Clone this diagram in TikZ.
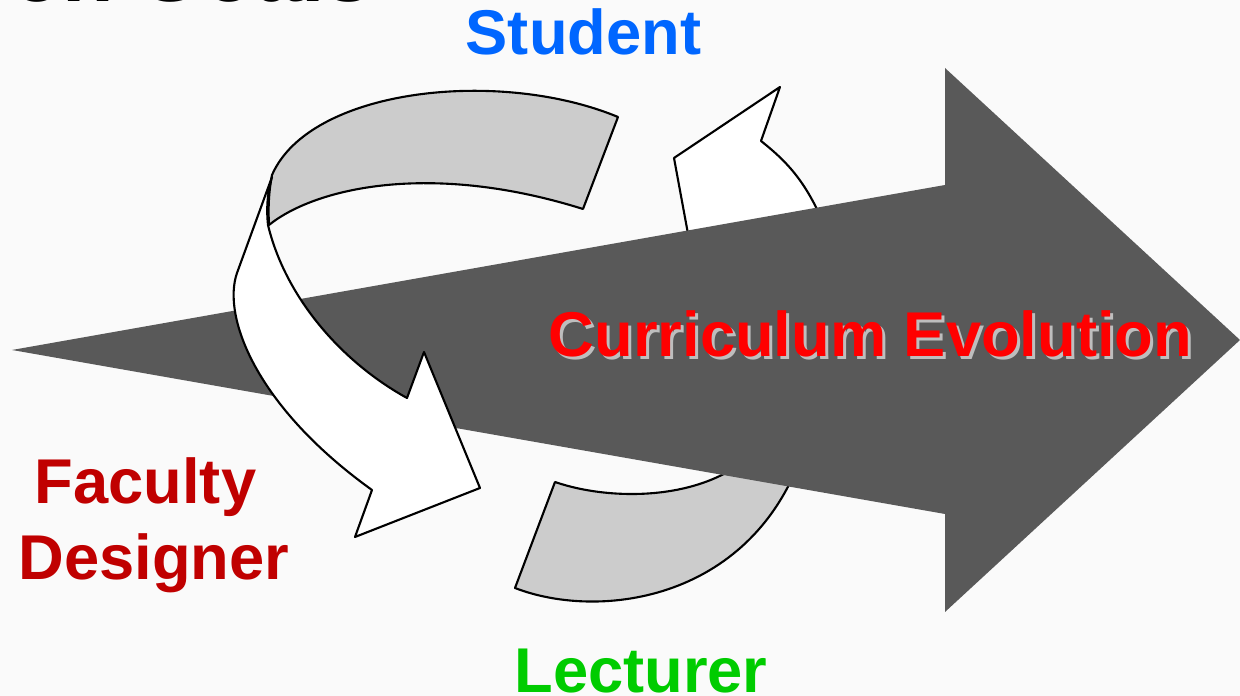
\documentclass[tikz,border=0pt]{standalone}
\usepackage{fontspec}
\setmainfont{Liberation Sans}
\usepackage{tikz}
\definecolor{mydark}{RGB}{89, 89, 89}
\definecolor{mygray}{RGB}{204, 204, 204}
\definecolor{myred}{RGB}{192, 0, 0}
\definecolor{myblue}{RGB}{0, 102, 255}
\definecolor{mygreen}{RGB}{0, 204, 0}
\definecolor{myshadow}{RGB}{190, 190, 190}
\definecolor{mybg}{RGB}{250, 250, 250}
\tikzset{band/.style = {draw = black, line width = 0.6pt, line join = round},
         rolelabel/.style = {font = \bfseries\fontsize{18}{21.6}\selectfont, inner sep = 0pt, anchor = base}}

\begin{document}
\begin{tikzpicture}[scale = 1]
\useasboundingbox (0,0) rectangle (12.4,6.96);
\fill[mybg] (0,0) rectangle (12.4,6.96);

% slide title, cut off at the top
\node[anchor = base east, inner sep = 0pt, font = \bfseries\fontsize{24}{28}\selectfont] (title) at (3.73, 6.94) {on Goals};

% ring parts behind the big arrow
\draw[band, fill = white] (6.91, 4.46) -- (6.74, 5.38) -- (7.80, 6.09) -- (7.61, 5.55)
.. controls (7.90, 5.32) and (8.10, 5.10) .. (8.30, 4.56) -- cycle;
\draw[band, fill = mygray] (5.55, 2.14) -- (5.15, 1.08)
.. controls (6.00, 0.75) and (7.55, 0.95) .. (8.05, 2.50) -- (7.50, 2.40)
.. controls (7.00, 1.95) and (6.10, 1.95) .. (5.55, 2.14) -- cycle;

% big arrow
\fill[mydark] (0.12, 3.46) -- (9.45, 5.11) -- (9.45, 6.28) -- (12.40, 3.56) -- (9.45, 0.84) -- (9.45, 1.82) -- cycle;

% ring parts in front
\draw[band, fill = mygray] (6.18, 5.79)
.. controls (5.00, 6.28) and (3.10, 6.08) .. (2.72, 5.21)
.. controls (2.69, 5.05) and (2.68, 4.90) .. (2.69, 4.71)
.. controls (3.15, 5.08) and (4.30, 5.35) .. (5.83, 4.87) -- cycle;
\draw[band, fill = white] (2.72, 5.19) -- (2.37, 4.23)
.. controls (2.22, 3.80) and (2.55, 2.90) .. (3.72, 2.06)
-- (3.55, 1.59) -- (4.80, 2.08) -- (4.24, 3.44) -- (4.07, 2.98)
.. controls (3.40, 3.35) and (2.85, 4.00) .. (2.68, 4.71)
.. controls (2.66, 4.90) and (2.68, 5.05) .. (2.72, 5.19) -- cycle;

% labels
\node[rolelabel, text = myshadow] (evoshadow) at (8.735, 3.36) {Curriculum Evolution};
\node[rolelabel, text = red] (evo) at (8.705, 3.39) {Curriculum Evolution};
\node[rolelabel, text = myblue] (student) at (5.835, 6.41) {Student};
\node[rolelabel, text = myred] (faculty) at (1.455, 1.92) {Faculty};
\node[rolelabel, text = myred] (designer) at (1.54, 1.16) {Designer};
\node[rolelabel, text = mygreen] (lecturer) at (6.41, 0.03) {Lecturer};

\end{tikzpicture}
\end{document}
